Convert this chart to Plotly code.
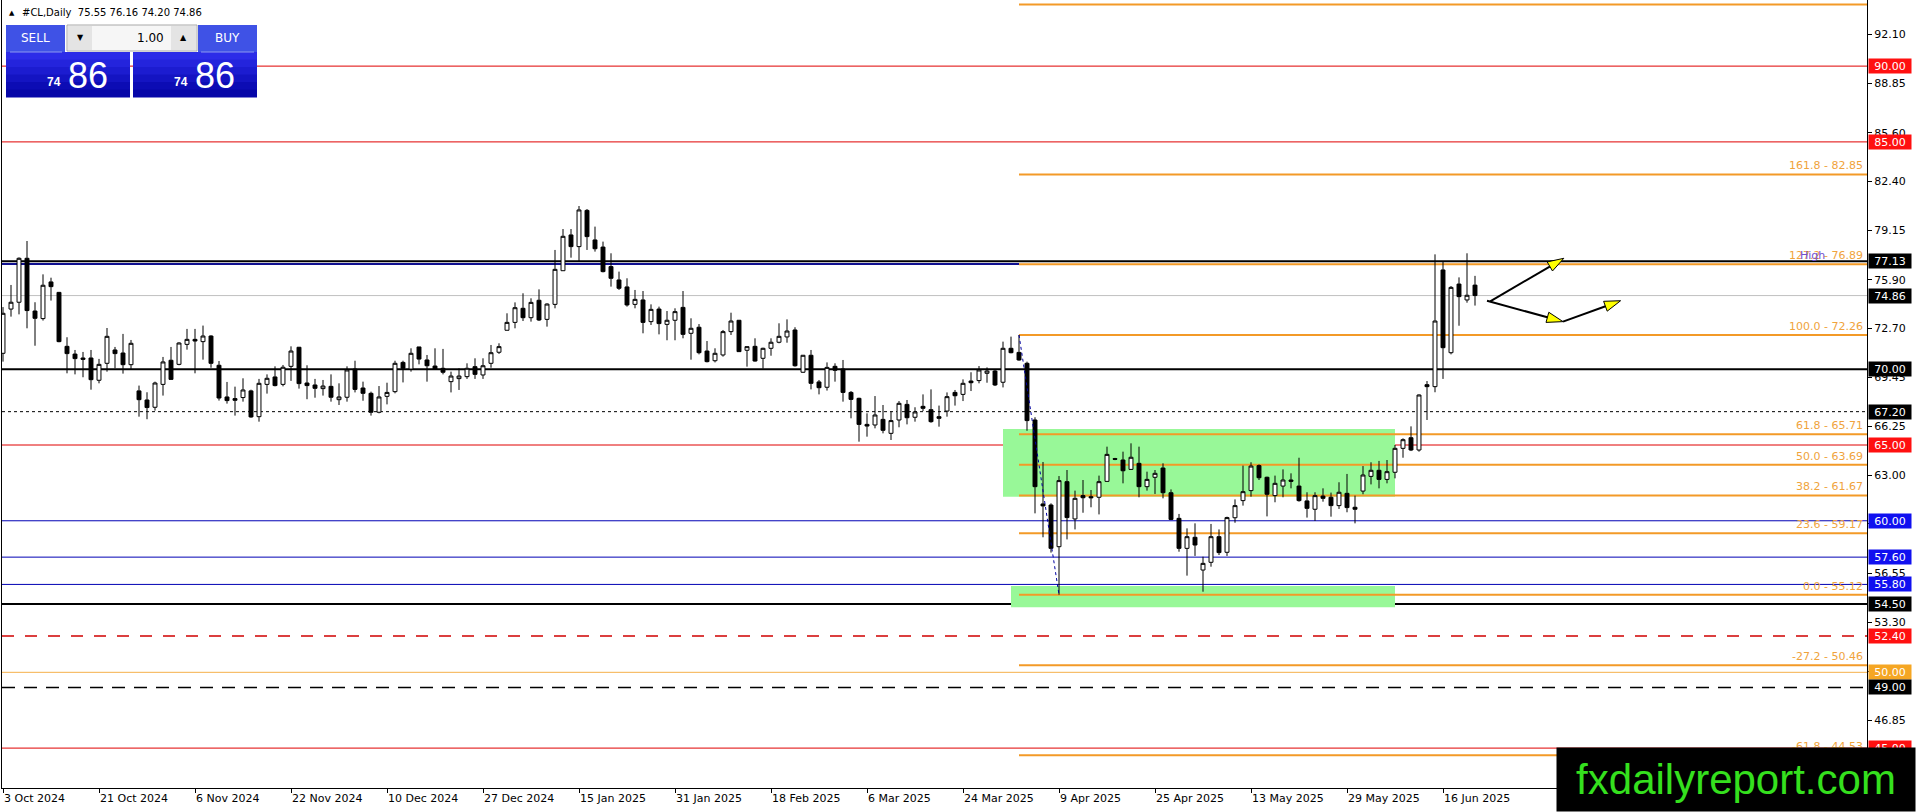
import plotly.graph_objects as go

# daily bars, #CL, bar 0 = 3 Oct 2024
opens = [71.05, 73.97, 74.42, 77.32, 73.84, 73.34, 75.76, 75.07, 71.51, 71.00,
         70.74, 70.74, 69.27, 70.39, 71.27, 71.07, 70.30, 68.57, 67.97, 67.49,
         69.00, 70.59, 70.32, 71.64, 71.97, 71.82, 72.19, 70.26, 68.17, 68.06,
         68.13, 68.57, 66.87, 69.00, 69.49, 69.00, 70.19, 71.45, 69.09, 68.96,
         68.72, 68.87, 67.99, 68.15, 70.01, 68.76, 68.41, 67.16, 68.21, 68.52,
         70.45, 70.01, 71.47, 70.61, 70.21, 70.06, 69.18, 69.38, 69.51, 70.17,
         69.62, 70.39, 71.12, 72.57, 73.09, 74.02, 73.40, 74.55, 73.29, 74.28,
         76.50, 78.86, 78.09, 80.48, 78.53, 78.06, 76.77, 75.89, 75.43, 74.28,
         74.57, 73.14, 73.97, 72.96, 73.23, 74.08, 72.37, 72.77, 71.20, 70.56,
         70.94, 72.48, 73.23, 71.25, 71.51, 70.72, 71.38, 71.78, 72.13, 72.59,
         69.80, 70.92, 69.16, 68.81, 70.19, 70.01, 68.47, 68.08, 66.36, 66.32,
         66.69, 65.77, 66.65, 67.68, 66.83, 67.55, 67.33, 66.87, 67.24, 68.47,
         68.34, 69.22, 69.25, 69.73, 69.88, 69.14, 71.38, 71.11, 70.39, 66.65,
         61.11, 61.04, 58.29, 62.58, 60.12, 61.66, 61.59, 61.55, 62.60, 64.10,
         64.01, 63.39, 63.79, 62.25, 62.87, 63.48, 61.85, 60.16, 58.18, 58.91,
         56.75, 57.26, 58.95, 57.92, 60.20, 61.33, 61.99, 63.64, 62.87, 61.66,
         62.29, 62.69, 62.29, 61.31, 60.76, 61.63, 61.55, 61.00, 61.81, 60.89,
         61.96, 62.93, 63.33, 62.73, 63.20, 64.78, 65.48, 64.67, 68.98, 68.85,
         76.55, 71.09, 75.62, 74.57, 75.55]
highs = [74.10, 75.56, 77.38, 78.46, 74.42, 76.26, 76.04, 75.10, 72.11, 71.27,
         71.14, 71.27, 70.68, 72.72, 71.47, 72.33, 71.93, 68.92, 68.48, 69.18,
         70.81, 71.47, 71.78, 72.66, 72.66, 72.88, 72.24, 70.54, 69.16, 68.85,
         69.40, 68.65, 69.36, 69.66, 70.19, 70.28, 71.51, 71.47, 70.26, 69.36,
         69.29, 69.66, 69.07, 70.19, 70.56, 69.18, 68.52, 68.89, 69.11, 70.56,
         70.56, 71.38, 71.47, 70.94, 71.38, 71.34, 69.84, 70.06, 70.39, 70.72,
         70.72, 71.60, 71.71, 73.69, 74.41, 75.01, 74.68, 75.27, 74.35, 77.87,
         79.25, 79.25, 80.77, 80.57, 79.41, 78.42, 77.65, 76.44, 76.00, 75.23,
         75.16, 74.28, 74.13, 73.84, 74.02, 75.16, 73.36, 72.98, 71.86, 71.38,
         72.59, 73.73, 73.25, 71.49, 72.04, 71.42, 72.04, 73.03, 73.29, 72.77,
         70.94, 71.27, 69.29, 70.45, 70.39, 70.61, 68.56, 68.12, 67.09, 68.23,
         67.64, 67.20, 67.90, 67.97, 67.49, 68.34, 68.67, 67.60, 68.47, 68.63,
         69.33, 69.80, 70.21, 70.12, 69.95, 71.82, 72.15, 72.26, 70.50, 66.83,
         63.88, 61.15, 62.95, 63.35, 61.99, 62.69, 62.03, 62.98, 64.89, 64.15,
         64.56, 65.11, 64.89, 63.24, 63.35, 63.79, 62.07, 60.45, 59.50, 59.83,
         57.63, 59.79, 59.43, 60.27, 61.41, 63.64, 63.86, 63.72, 62.91, 62.98,
         63.39, 63.13, 64.16, 61.88, 61.88, 62.14, 61.86, 62.54, 63.09, 61.66,
         63.61, 63.86, 63.95, 64.01, 65.00, 65.44, 66.23, 68.34, 69.22, 77.58,
         77.10, 75.49, 76.06, 77.65, 76.16]
lows = [70.50, 73.47, 73.62, 72.70, 71.55, 73.21, 74.53, 71.78, 69.73, 69.66,
        69.47, 68.65, 69.07, 69.84, 70.06, 69.71, 70.02, 66.87, 66.70, 67.27,
        68.26, 69.33, 70.26, 71.29, 69.73, 70.63, 70.10, 67.93, 67.73, 66.94,
        67.86, 66.80, 66.54, 68.39, 68.87, 68.87, 69.23, 68.72, 68.02, 68.12,
        68.26, 67.86, 67.64, 67.86, 68.47, 67.92, 66.94, 67.09, 67.68, 68.41,
        69.13, 69.84, 70.32, 69.18, 69.95, 69.66, 68.47, 68.63, 69.36, 69.36,
        69.36, 70.10, 71.01, 72.57, 72.70, 73.18, 73.14, 73.18, 72.81, 74.02,
        76.50, 77.36, 77.14, 77.87, 77.76, 76.39, 75.45, 75.23, 74.13, 74.02,
        72.37, 72.92, 72.30, 71.91, 71.91, 72.04, 70.63, 70.98, 70.45, 70.45,
        70.83, 72.26, 71.16, 70.17, 70.50, 70.04, 70.89, 71.71, 71.75, 70.17,
        69.77, 68.67, 68.34, 68.59, 69.18, 67.86, 66.76, 65.22, 65.55, 66.10,
        65.77, 65.33, 66.17, 66.36, 66.54, 67.24, 66.47, 66.21, 66.87, 67.60,
        67.90, 68.56, 69.07, 69.11, 68.89, 68.80, 71.05, 70.56, 65.94, 60.49,
        58.91, 57.90, 55.12, 58.77, 59.43, 60.53, 60.89, 60.42, 62.58, 64.00,
        62.47, 63.35, 61.55, 61.99, 61.77, 61.48, 60.05, 57.96, 56.38, 57.68,
        55.32, 56.97, 57.74, 57.68, 59.87, 61.00, 61.59, 62.69, 60.29, 61.22,
        61.55, 62.14, 61.26, 60.21, 59.99, 61.26, 60.27, 60.78, 60.56, 59.83,
        61.75, 62.40, 62.14, 62.47, 62.80, 64.16, 64.60, 64.56, 66.65, 68.48,
        69.36, 70.98, 72.87, 74.39, 74.20]
closes = [73.69, 74.42, 77.32, 73.87, 73.36, 75.54, 75.45, 71.82, 71.03, 70.70,
          70.65, 69.31, 70.32, 72.17, 71.03, 70.30, 71.71, 67.99, 67.47, 69.09,
          70.48, 69.33, 71.73, 71.97, 71.86, 72.19, 70.39, 68.10, 67.93, 67.95,
          68.63, 66.85, 69.07, 69.40, 68.92, 70.13, 71.20, 69.05, 68.92, 68.74,
          68.89, 68.15, 68.17, 69.95, 68.67, 68.41, 67.16, 68.17, 68.47, 70.39,
          70.06, 71.05, 70.67, 70.23, 70.01, 69.80, 69.55, 69.55, 70.06, 69.66,
          70.23, 71.09, 71.49, 73.09, 74.06, 73.40, 74.41, 73.25, 74.30, 76.59,
          78.77, 78.09, 80.51, 78.75, 77.95, 76.44, 76.00, 75.34, 74.24, 74.61,
          73.09, 73.95, 73.01, 73.23, 73.80, 72.30, 72.70, 71.09, 70.50, 71.05,
          72.48, 73.18, 71.16, 71.49, 70.54, 71.38, 71.78, 72.17, 72.52, 70.23,
          70.92, 69.07, 68.78, 70.12, 69.93, 68.47, 68.01, 66.36, 66.25, 66.98,
          65.97, 66.61, 67.75, 66.80, 67.18, 67.42, 66.54, 66.76, 68.19, 68.25,
          69.07, 69.11, 69.95, 69.88, 68.96, 71.38, 71.09, 70.61, 66.61, 62.25,
          60.98, 58.18, 62.65, 60.21, 61.48, 61.52, 61.52, 62.58, 64.38, 64.06,
          63.30, 64.19, 62.25, 62.73, 63.13, 61.85, 60.09, 58.18, 58.95, 58.40,
          57.19, 58.95, 57.90, 60.21, 61.00, 61.92, 63.61, 62.84, 61.75, 62.47,
          62.69, 62.60, 61.33, 60.82, 61.66, 61.48, 61.00, 61.88, 60.87, 60.76,
          63.02, 63.33, 62.73, 63.24, 64.78, 65.35, 64.67, 68.30, 68.85, 73.18,
          71.42, 75.40, 74.79, 74.88, 74.86]

date_bars = [0, 12, 24, 36, 48, 60, 72, 84, 96, 108, 120, 132, 144, 156, 168, 180]
date_labels = ["3 Oct 2024", "21 Oct 2024", "6 Nov 2024", "22 Nov 2024",
               "10 Dec 2024", "27 Dec 2024", "15 Jan 2025", "31 Jan 2025",
               "18 Feb 2025", "6 Mar 2025", "24 Mar 2025", "9 Apr 2025",
               "25 Apr 2025", "13 May 2025", "29 May 2025", "16 Jun 2025"]

price_ticks = [92.10, 88.85, 85.60, 82.40, 79.15, 75.90, 72.70, 69.45, 66.25,
               63.00, 59.80, 56.55, 53.30, 50.05, 46.85, 43.60]

# horizontal levels across the whole chart
level_prices = [90.00, 85.00, 77.13, 74.86, 70.00, 67.20, 65.00, 60.00, 57.60,
                55.80, 54.50, 52.40, 50.00, 49.00, 45.00]
level_kinds = ["red", "red", "black", "bid", "black", "dot", "red", "blue", "blue",
               "blue", "black", "reddash", "orange", "blackdash", "red"]

# fibonacci from the 2 Apr high to the 9 Apr low
fib_ratios = [227.2, 161.8, 127.2, 100.0, 61.8, 50.0, 38.2, 23.6, 0.0, -27.2, -61.8]
fib_prices = [94.06, 82.85, 76.92, 72.26, 65.71, 63.69, 61.67, 59.17, 55.12, 50.46, 44.53]
fib_high_bar = 127
fib_low_bar = 132
old_high_line = 76.95

# green zones (bar from, bar to, price low, price high)
zone_bars = [(125, 174), (126, 174)]
zone_prices = [(61.59, 66.06), (54.30, 55.70)]

# projection arrows (bar, price) points
arrow_paths = [
    [(185.9, 74.48), (195.1, 77.32)],
    [(185.5, 74.52), (195.0, 73.14), (202.2, 74.52)],
]

W, H = 1916, 812
ML, MR, MT, MB = 2, 49, 0, 24
PW, PH = W - ML - MR, H - MT - MB
x_range = [-0.125, 233]
y_range = [42.367, 94.363]


def px(x):
    return (x - ML) / PW


def py(y):
    return 1 - (y - MT) / PH


bars = list(range(len(opens)))
FONT = "DejaVu Sans"
FIB_LINE = "#f39a27"
FIB_TEXT = "#f0a33c"

fig = go.Figure()
fig.add_trace(go.Candlestick(
    x=bars, open=opens, high=highs, low=lows, close=closes,
    increasing=dict(line=dict(color="black", width=1), fillcolor="white"),
    decreasing=dict(line=dict(color="black", width=1), fillcolor="black"),
    whiskerwidth=0, showlegend=False, hoverinfo="skip"))

shapes = []
annotations = []

for (b0, b1), (p0, p1) in zip(zone_bars, zone_prices):
    shapes.append(dict(type="rect", xref="x", yref="y", x0=b0, x1=b1, y0=p0, y1=p1,
                       fillcolor="#98f898", line=dict(width=0), layer="below"))

styles = {
    "red": ("#e00000", 1, "solid", "#ff1010"),
    "black": ("black", 2, "solid", "black"),
    "bid": ("#c0c0c0", 1, "solid", "black"),
    "dot": ("black", 1, "3px,3px", "black"),
    "blue": ("#0000b4", 1, "solid", "#1010f0"),
    "reddash": ("#d00000", 1.5, "12px,11px", "#ff1010"),
    "orange": ("#f5b04a", 1, "solid", "#f5a623"),
    "blackdash": ("black", 1.5, "13px,9px", "black"),
}
for p, kind in zip(level_prices, level_kinds):
    col, w, dash, box = styles[kind]
    shapes.append(dict(type="line", xref="paper", yref="y", x0=0, x1=1, y0=p, y1=p,
                       line=dict(color=col, width=w, dash=dash), layer="below"))

shapes.append(dict(type="line", xref="x", yref="y", x0=x_range[0], x1=fib_high_bar,
                   y0=old_high_line, y1=old_high_line,
                   line=dict(color="#101090", width=2), layer="below"))

for r, p in zip(fib_ratios, fib_prices):
    shapes.append(dict(type="line", xref="x", yref="y", x0=fib_high_bar, x1=x_range[1],
                       y0=p, y1=p, line=dict(color=FIB_LINE, width=2), layer="below"))
    if p < y_range[1] - 1:
        annotations.append(dict(xref="paper", yref="y", x=1, y=p, xanchor="right",
                                yanchor="bottom", xshift=-2, showarrow=False,
                                text="%.1f - %.2f" % (r, p) if r != 127.2 else "127.2 - 76.89",
                                font=dict(color=FIB_TEXT, size=11, family=FONT)))
annotations.append(dict(xref="paper", yref="y", x=1, y=fib_prices[2], xanchor="right",
                        yanchor="bottom", xshift=-40, showarrow=False, text="High",
                        font=dict(color="#7050d0", size=11, family=FONT)))

shapes.append(dict(type="line", xref="x", yref="y", x0=fib_high_bar, x1=fib_low_bar,
                   y0=fib_prices[3], y1=fib_prices[8],
                   line=dict(color="#0000a0", width=1, dash="dot")))

# price boxes on the right scale
for p, kind in zip(level_prices, level_kinds):
    annotations.append(dict(xref="paper", yref="y", x=1, y=p, xanchor="left",
                            yanchor="middle", xshift=1, showarrow=False,
                            text="%.2f" % p, bgcolor=styles[kind][3], width=40,
                            height=12, borderpad=1,
                            font=dict(color="white", size=11, family=FONT)))

for path in arrow_paths:
    fig.add_trace(go.Scatter(
        x=[q[0] for q in path], y=[q[1] for q in path], mode="lines+markers",
        line=dict(color="black", width=2),
        marker=dict(symbol="arrow", size=17, angleref="previous", color="#ffff00",
                    line=dict(color="black", width=1)),
        showlegend=False, hoverinfo="skip"))

# trade panel
def rect(x0, y0, x1, y1, fill, line=None):
    shapes.append(dict(type="rect", xref="paper", yref="paper",
                       x0=px(x0), x1=px(x1), y0=py(y1), y1=py(y0), fillcolor=fill,
                       line=dict(width=1 if line else 0, color=line or fill),
                       layer="above"))


band_cols = ["#2c2ce8", "#2424dc", "#1c1cd0", "#1414c2", "#0c0cb4", "#0606a8"]
for left, right in [(6, 130), (133, 257)]:
    step = (97 - 52) / len(band_cols)
    for k, c in enumerate(band_cols):
        rect(left, 52 + k * step, right, 52 + (k + 1) * step + 0.5, c)
rect(6, 25, 65, 52, "#3f52e6")
rect(198, 25, 257, 52, "#3f52e6")
rect(67, 25, 197, 51, "#f6f6f6", "#a8a8a8")
rect(68, 26, 92, 50, "#e4e4e4")
rect(171, 26, 196, 50, "#e4e4e4")
for a, b in [(10, 62), (201, 254)]:
    shapes.append(dict(type="line", xref="paper", yref="paper", x0=px(a), x1=px(b),
                       y0=py(52), y1=py(52), line=dict(color="#8c98f0", width=1),
                       layer="above"))

def label(x, y, text, size, color, anchor="center", family=FONT):
    annotations.append(dict(xref="paper", yref="paper", x=px(x), y=py(y), text=text,
                            xanchor=anchor, yanchor="middle", showarrow=False,
                            font=dict(size=size, color=color, family=family)))


last = closes[-1]
big, small = ("%.2f" % last).split(".")
label(35, 38, "SELL", 12, "white")
label(227, 38, "BUY", 12, "white")
label(80, 38, "▼", 8, "black")
label(183, 38, "▲", 8, "black")
label(166, 38, "1.00", 12, "black", "right")
for x_small, x_big in [(54, 88), (181, 215)]:
    label(x_small, 82, "<b>%s</b>" % big, 12, "white", family="Liberation Sans")
    label(x_big, 75, small, 36, "white", family="Liberation Sans")

label(7, 13, "▲", 7, "black", "left")
label(20, 13, "#CL,Daily  %.2f %.2f %.2f %.2f" % (opens[-1], highs[-1], lows[-1], closes[-1]),
      10, "black", "left")

# watermark box
annotations.append(dict(xref="paper", yref="paper", x=px(1916), y=py(812),
                        xanchor="right", yanchor="bottom", showarrow=False,
                        text="fxdailyreport.com", bgcolor="black", width=358, height=63,
                        borderpad=0, font=dict(size=42, color="#35e01e",
                                               family="Liberation Sans")))

fig.update_layout(
    width=W, height=H, margin=dict(l=ML, r=MR, t=MT, b=MB),
    paper_bgcolor="white", plot_bgcolor="white",
    font=dict(family=FONT, size=11, color="black"),
    showlegend=False, shapes=shapes, annotations=annotations, boxgap=0.3,
    xaxis=dict(range=x_range, rangeslider=dict(visible=False), showgrid=False,
               zeroline=False, tickmode="array", tickvals=date_bars, ticktext=date_labels,
               ticks="outside", ticklen=4, tickcolor="black",
               ticklabelposition="outside right", showline=True, linecolor="black",
               linewidth=1, mirror=True, tickfont=dict(size=11)),
    yaxis=dict(range=y_range, side="right", showgrid=False, zeroline=False,
               tickmode="array", tickvals=price_ticks,
               ticktext=["%.2f" % t for t in price_ticks], ticks="outside", ticklen=4,
               tickcolor="black", showline=True, linecolor="black", linewidth=1,
               mirror=True, tickfont=dict(size=11)),
)

fig.write_html("out.html", config={"displayModeBar": False},
               post_script="document.body.style.margin='0';document.body.style.overflow='hidden';")
